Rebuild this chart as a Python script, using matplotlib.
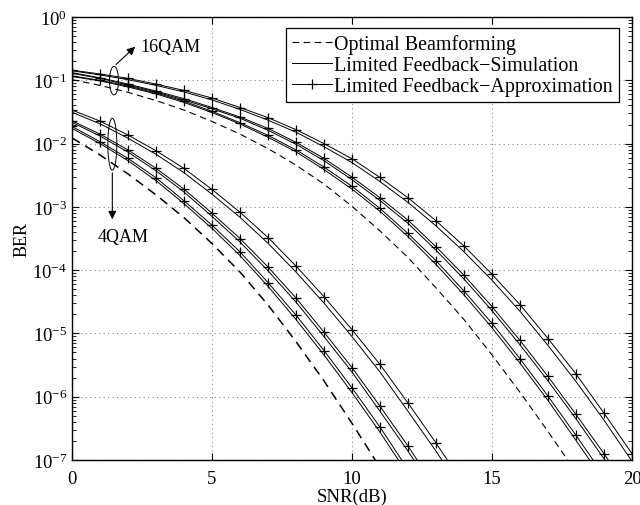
import numpy as np
import matplotlib
matplotlib.use('Agg')
import matplotlib.pyplot as plt

# SNR grid (dB)
snr = np.arange(0, 21)

# log10(BER); 3 feedback cases (A lowest BER ... C highest)
# 4QAM
qam4_opt = [-1.91, -2.18, -2.48, -2.81, -3.17, -3.58, -4.03, -4.55, -5.13, -5.75, -6.42, -7.12]
qam4_sim_a = [-1.76, -2.00, -2.27, -2.585, -2.95, -3.34, -3.77, -4.255, -4.78, -5.34, -5.935, -6.56, -7.23]
qam4_apx_a = [-1.73, -1.97, -2.234, -2.54, -2.904, -3.29, -3.71, -4.196, -4.71, -5.27, -5.86, -6.48, -7.15]
qam4_sim_b = [-1.665, -1.88, -2.135, -2.43, -2.765, -3.15, -3.555, -4.01, -4.505, -5.05, -5.61, -6.23, -6.86, -7.53]
qam4_apx_b = [-1.64, -1.85, -2.10, -2.39, -2.72, -3.10, -3.50, -3.95, -4.44, -4.98, -5.54, -6.15, -6.78, -7.45]
qam4_sim_c = [-1.505, -1.688, -1.915, -2.17, -2.46, -2.80, -3.165, -3.575, -4.03, -4.52, -5.05, -5.61, -6.23, -6.86, -7.53]
qam4_apx_c = [-1.47, -1.644, -1.865, -2.113, -2.392, -2.725, -3.085, -3.484, -3.935, -4.42, -4.94, -5.49, -6.10, -6.73, -7.40]

# 16QAM
qam16_opt = [-0.99, -1.08, -1.19, -1.32, -1.47, -1.65, -1.85, -2.08, -2.34, -2.64, -2.99,
             -3.38, -3.80, -4.28, -4.78, -5.34, -5.93, -6.55, -7.19]
qam16_sim_a = [-0.94, -1.01, -1.105, -1.215, -1.35, -1.51, -1.69, -1.90, -2.13, -2.41, -2.72,
               -3.07, -3.47, -3.91, -4.39, -4.91, -5.47, -6.06, -6.69, -7.33]
qam16_apx_a = [-0.93, -1.00, -1.09, -1.20, -1.33, -1.49, -1.67, -1.87, -2.10, -2.37, -2.675,
               -3.025, -3.42, -3.85, -4.33, -4.84, -5.40, -5.99, -6.61, -7.25]
qam16_sim_b = [-0.89, -0.97, -1.075, -1.185, -1.31, -1.45, -1.60, -1.79, -2.01, -2.27, -2.57,
               -2.90, -3.26, -3.685, -4.14, -4.64, -5.18, -5.75, -6.35, -6.98, -7.63]
qam16_apx_b = [-0.88, -0.96, -1.06, -1.17, -1.29, -1.43, -1.58, -1.76, -1.98, -2.234, -2.53,
               -2.856, -3.21, -3.63, -4.08, -4.575, -5.11, -5.68, -6.28, -6.90, -7.55]
qam16_sim_c = [-0.85, -0.915, -0.99, -1.08, -1.185, -1.31, -1.46, -1.63, -1.82, -2.05, -2.30,
               -2.60, -2.93, -3.30, -3.71, -4.16, -4.65, -5.19, -5.76, -6.37, -7.02]
qam16_apx_c = [-0.84, -0.90, -0.97, -1.06, -1.16, -1.28, -1.43, -1.59, -1.78, -2.00, -2.24,
               -2.535, -2.856, -3.22, -3.62, -4.065, -4.545, -5.08, -5.64, -6.26, -6.90]

legend_labels = ['Optimal Beamforming', 'Limited Feedback\u2212Simulation',
                 'Limited Feedback\u2212Approximation']


def ber(vals):
    return 10.0 ** np.array(vals)


def draw_group(ax, opt, sims, apxs, opt_lw):
    ax.semilogy(snr[:len(opt)], ber(opt), color='k', lw=opt_lw, linestyle=(0, (6, 4)))
    for s in sims:
        ax.semilogy(snr[:len(s)], ber(s), 'k-', lw=0.7)
    for a in apxs:
        ax.semilogy(snr[:len(a)], ber(a), 'k-', lw=0.7, marker='+', ms=7, mew=0.9)


def ellipse(ax, cx, cy, w, h):
    t = np.linspace(0, 2 * np.pi, 100)
    ax.plot(cx + w * np.cos(t), 10 ** (cy + h * np.sin(t)), 'k-', lw=0.7)


def main():
    plt.rcParams['font.family'] = ['Liberation Serif', 'DejaVu Serif']
    plt.rcParams['mathtext.fontset'] = 'stix'

    fig = plt.figure(figsize=(6.4, 5.06), dpi=100)
    ax = fig.add_axes([0.1125, 0.0889, 0.875, 0.8755])

    draw_group(ax, qam4_opt, [qam4_sim_a, qam4_sim_b, qam4_sim_c],
               [qam4_apx_a, qam4_apx_b, qam4_apx_c], 1.1)
    draw_group(ax, qam16_opt, [qam16_sim_a, qam16_sim_b, qam16_sim_c],
               [qam16_apx_a, qam16_apx_b, qam16_apx_c], 0.8)

    # legend proxies
    h1, = ax.plot([], [], color='k', lw=0.8, linestyle=(0, (6, 4)))
    h2, = ax.plot([], [], 'k-', lw=0.7)
    h3, = ax.plot([], [], 'k-', lw=0.7, marker='+', ms=7, mew=0.9)
    leg = ax.legend([h1, h2, h3], legend_labels, loc='upper right',
                    bbox_to_anchor=(0.977, 0.975), borderaxespad=0, fontsize=14.4,
                    fancybox=False, edgecolor='k', framealpha=1,
                    handlelength=2.0, handletextpad=0.1, labelspacing=0.1,
                    borderpad=0.3)
    leg.get_frame().set_linewidth(0.9)

    # group annotations
    ellipse(ax, 1.5, -1.005, 0.16, 0.225)
    ellipse(ax, 1.44, -2.01, 0.16, 0.41)
    ax.annotate('', xy=(2.33, 10 ** -0.44), xytext=(1.5, 10 ** -0.78),
                arrowprops=dict(arrowstyle='-|>', color='k', lw=0.8, mutation_scale=12))
    ax.text(2.45, 10 ** -0.46, '16QAM', fontsize=13, ha='left', va='center')
    ax.annotate('', xy=(1.44, 10 ** -3.24), xytext=(1.44, 10 ** -2.42),
                arrowprops=dict(arrowstyle='-|>', color='k', lw=0.8, mutation_scale=12))
    ax.text(1.84, 10 ** -3.47, '4QAM', fontsize=13, ha='center', va='center')

    ax.set_xlim(0, 20)
    ax.set_ylim(1e-7, 1)
    ax.set_xticks([0, 5, 10, 15, 20])
    ax.set_xlabel('SNR(dB)', fontsize=13.5, labelpad=1)
    ax.set_ylabel('BER', fontsize=13, labelpad=1)
    ax.tick_params(which='both', direction='in', top=True, right=True, labelsize=13.5)
    ax.tick_params(axis='x', which='major', pad=7)
    ax.tick_params(which='major', length=5)
    ax.tick_params(which='minor', length=3)
    ax.grid(True, which='major', color='#888888', linestyle=(0, (1, 3)), lw=0.8)
    for sp in ax.spines.values():
        sp.set_linewidth(1.0)

    fig.savefig('out.png', dpi=100)


if __name__ == '__main__':
    main()
